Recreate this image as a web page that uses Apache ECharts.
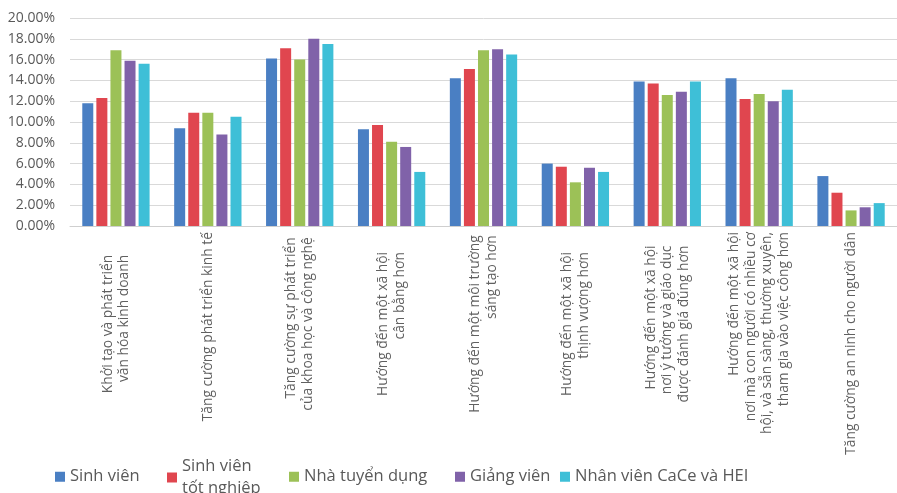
<!DOCTYPE html>
<html>
<head>
<meta charset="utf-8">
<script src="https://cdn.jsdelivr.net/npm/echarts@6/dist/echarts.min.js"></script>
<style>
  html, body { margin: 0; padding: 0; background: #ffffff; }
  #chart { width: 897px; height: 493px; }
</style>
</head>
<body>
<div id="chart"></div>
<script>
// Goals of the entrepreneurial university, by respondent group (share of answers, %)
const categories = [
  'Khởi tạo và phát triển\nvăn hóa kinh doanh',
  'Tăng cường phát triển kinh tế',
  'Tăng cường sự phát triển\ncủa khoa học và công nghệ',
  'Hướng đến một xã hội\ncân bằng hơn',
  'Hướng đến một môi trường\nsáng tạo hơn',
  'Hướng đến một xã hội\nthịnh vượng hơn',
  'Hướng đến một xã hội\nnơi ý tưởng và giáo dục\nđược đánh giá đúng hơn',
  'Hướng đến một xã hội\nnơi mà con người có nhiều cơ\nhội, và sẵn sàng, thường xuyên,\ntham gia vào việc công hơn',
  'Tăng cường an ninh cho người dân'
];

const seriesNames = [
  'Sinh viên',
  'Sinh viên\ntốt nghiệp',
  'Nhà tuyển dụng',
  'Giảng viên',
  'Nhân viên CaCe và HEI'
];

const sinhVien      = [11.8, 9.4, 16.1, 9.3, 14.2, 6.0, 13.9, 14.2, 4.8];
const totNghiep     = [12.3, 10.9, 17.1, 9.7, 15.1, 5.7, 13.7, 12.2, 3.2];
const nhaTuyenDung  = [16.9, 10.9, 16.0, 8.1, 16.9, 4.2, 12.6, 12.7, 1.5];
const giangVien     = [15.9, 8.8, 18.0, 7.6, 17.0, 5.6, 12.9, 12.0, 1.8];
const nhanVienCaCe  = [15.6, 10.5, 17.5, 5.2, 16.5, 5.2, 13.9, 13.1, 2.2];

const yTicks = { min: 0, max: 20, interval: 2 };

const seriesValues = [sinhVien, totNghiep, nhaTuyenDung, giangVien, nhanVienCaCe];
const colors = ['#4a7fc3', '#e0464f', '#9cc157', '#8062a9', '#3ebfd7'];

const labelFont = '"Open Sans", "DejaVu Sans", sans-serif';
const labelSize = 13.8;

// Rotated category labels sit centred in the band under the axis; long ones
// start just below the axis line instead.
const measureCtx = document.createElement('canvas').getContext('2d');
measureCtx.font = labelSize + 'px "Open Sans"';
const labelMargin = 6;       // gap between axis line and the topmost label end
const labelBandCenter = 98;  // preferred centre of a label, below the axis
const categoryData = categories.map(function (c) {
  const w = Math.max.apply(null, c.split('\n').map(function (l) { return measureCtx.measureText(l).width; }));
  const drop = Math.max(0, labelBandCenter - w / 2 - labelMargin);
  return { value: c, textStyle: { padding: [0, drop, 0, 0] } };
});

const legendLeft = [55, 167, 289, 455, 560];
const legends = seriesNames.map(function (name, i) {
  const multi = name.indexOf('\n') >= 0;
  return {
    data: [name],
    left: legendLeft[i],
    top: multi ? 456 : 466,
    padding: 0,
    itemWidth: 10,
    itemHeight: 10,
    icon: 'rect',
    selectedMode: false,
    textStyle: {
      fontFamily: labelFont,
      fontSize: 16.5,
      color: '#595959',
      lineHeight: 21.5
    }
  };
});

const chart = echarts.init(document.getElementById('chart'), null, { renderer: 'canvas' });
chart.setOption({
  animation: false,
  color: colors,
  legend: legends,
  grid: { left: 70, right: 0, top: 18, bottom: 267, containLabel: false, outerBoundsMode: 'none' },
  xAxis: {
    type: 'category',
    data: categoryData,
    axisLine: { show: true, lineStyle: { color: '#cfcfcf', width: 1 } },
    axisTick: { show: false },
    axisLabel: {
      interval: 0,
      rotate: 90,
      align: 'center',
      verticalAlign: 'middle',
      margin: labelMargin,
      fontFamily: labelFont,
      fontSize: labelSize,
      lineHeight: 16.5,
      color: '#606060',
      hideOverlap: false
    }
  },
  yAxis: {
    type: 'value',
    min: yTicks.min,
    max: yTicks.max,
    interval: yTicks.interval,
    axisLine: { show: false },
    axisTick: { show: false },
    splitLine: { lineStyle: { color: '#d9d9d9', width: 1 } },
    axisLabel: {
      margin: 15,
      fontFamily: labelFont,
      fontSize: 14,
      color: '#595959',
      formatter: function (v) { return v.toFixed(2) + '%'; }
    }
  },
  series: seriesNames.map(function (name, i) {
    return {
      name: name,
      type: 'bar',
      data: seriesValues[i],
      barWidth: 11,
      barGap: '28%',
      itemStyle: { color: colors[i] }
    };
  })
});
</script>
</body>
</html>
